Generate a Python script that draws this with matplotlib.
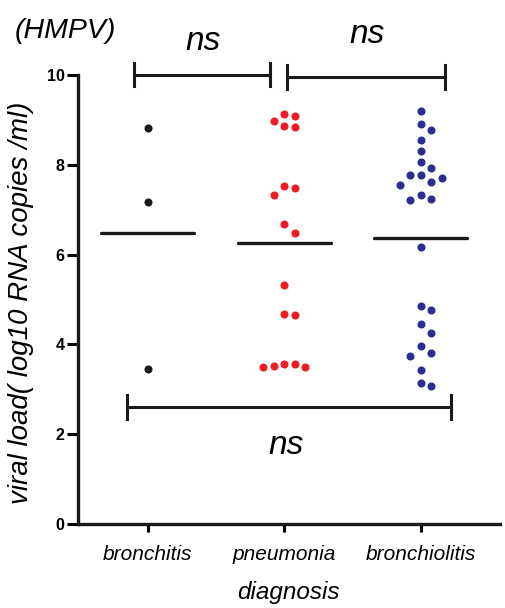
import numpy as np
import matplotlib
matplotlib.use("Agg")
import matplotlib.pyplot as plt

plt.rcParams['font.family'] = ['Liberation Sans', 'DejaVu Sans']

# data (log10 RNA copies/ml)
groups = ['bronchitis', 'pneumonia', 'bronchiolitis']
colors = ['#1a1a1a', '#ed1c24', '#2b2e8c']
bronchitis = [8.82, 7.17, 3.45]
pneumonia = [9.09, 9.14, 8.97, 8.86, 8.84, 7.54, 7.48, 7.33, 6.68, 6.48,
             5.33, 4.68, 4.65, 3.56, 3.52, 3.50, 3.50, 3.56]
bronchiolitis = [9.21, 8.92, 8.78, 8.56, 8.30, 8.06, 7.92, 7.77, 7.77, 7.71,
                 7.61, 7.56, 7.33, 7.22, 7.25, 6.17, 4.86, 4.77, 4.45, 4.25,
                 3.96, 3.75, 3.80, 3.43, 3.08, 3.14]
values = [bronchitis, pneumonia, bronchiolitis]
yticks = [0, 2, 4, 6, 8, 10]


def swarm(vals, step, dy_unit, dist=1.0):
    # greedy beeswarm: offsets in multiples of step, checked in "slot" units
    vals = np.asarray(vals)
    order = np.argsort(-vals)
    placed = []
    offs = np.zeros(len(vals))
    for i in order:
        v = vals[i]
        for k in [0, 1, -1, 2, -2, 3, -3, 4, -4]:
            ok = True
            for (pk, pv) in placed:
                if np.hypot(k - pk, (v - pv) / dy_unit) < dist:
                    ok = False
                    break
            if ok:
                placed.append((k, v))
                offs[i] = k * step
                break
    return offs


fig = plt.figure(figsize=(5.06, 6.08), dpi=100)
ax = fig.add_axes([0.154, 0.138, 0.834, 0.7385])

xstep = 0.0768           # horizontal slot width (data units)
ystep = 10.7 / 44.9      # same slot width in y data units
for i, (vals, c) in enumerate(zip(values, colors)):
    offs = swarm(vals, xstep, ystep)
    ax.plot(i + offs, vals, 'o', color=c, ms=4.8, mec=c, clip_on=False)
    m = np.mean(vals)
    ax.plot([i - 0.34, i + 0.34], [m, m], color='#1a1a1a', lw=2.4,
            solid_capstyle='round')

# significance brackets
def bracket(x0, x1, y, h=0.26):
    ax.plot([x0, x1], [y, y], color='#1a1a1a', lw=2.2, clip_on=False)
    for x in (x0, x1):
        ax.plot([x, x], [y - h, y + h], color='#1a1a1a', lw=2.2, clip_on=False)

bracket(-0.10, 0.895, 10.01)
bracket(1.017, 2.175, 9.96)
bracket(-0.15, 2.225, 2.61)
ax.text(0.405, 10.56, 'ns', fontsize=24, style='italic', ha='center', va='baseline')
ax.text(1.606, 10.71, 'ns', fontsize=24, style='italic', ha='center', va='baseline')
ax.text(1.01, 1.56, 'ns', fontsize=24, style='italic', ha='center', va='baseline')

ax.set_xlim(-0.512, 2.58)
ax.set_ylim(0, 10)
ax.set_xticks(range(3))
ax.set_xticklabels(groups, fontsize=15, style='italic')
ax.set_yticks(yticks)
ax.set_yticklabels([str(t) for t in yticks], fontsize=11.5, fontweight='bold')
ax.tick_params(axis='y', length=8, width=2.2, pad=1.5)
ax.tick_params(axis='x', length=6, width=2.2, pad=9)
for s in ['top', 'right']:
    ax.spines[s].set_visible(False)
for s in ['left', 'bottom']:
    ax.spines[s].set_linewidth(2.4)
    ax.spines[s].set_color('#1a1a1a')
ax.set_xlabel('diagnosis', fontsize=17.5, style='italic', labelpad=12)

fig.text(21 / 506, 1 - 303 / 608, 'viral load( log10 RNA copies /ml)', rotation=90,
         fontsize=20, style='italic', ha='center', va='center')
fig.text(15 / 506, 1 - 38 / 608, '(HMPV)', fontsize=20.5, style='italic',
         ha='left', va='baseline')

fig.savefig('out.png', dpi=100)
